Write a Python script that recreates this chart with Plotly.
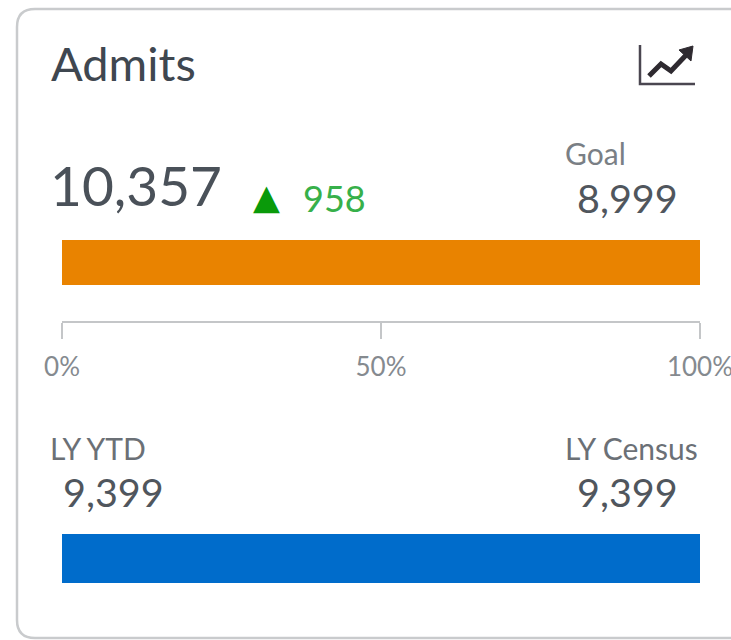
import plotly.graph_objects as go

TITLE = "Admits"
actual = 10357
variance = 958
goal = 8999
ly_ytd = 9399
ly_census = 9399
actual_pct = [100]
ly_pct = [100]
tick_vals = [0, 50, 100]
tick_text = ["0%", "50%", "100%"]

W, H = 731, 640
FONT = "Lato"
def px(x): return x / W
def py(y): return 1 - y / H
def pth(pts, close=False):
    s = "M" + " L".join(f"{px(x):.5f},{py(y):.5f}" for x, y in pts)
    return s + (" Z" if close else "")

fig = go.Figure()
fig.add_bar(x=actual_pct, y=["Actual"], orientation="h", marker=dict(color="#E98300", line_width=0),
            xaxis="x", yaxis="y", showlegend=False, hoverinfo="skip")
fig.add_bar(x=ly_pct, y=["LY"], orientation="h", marker=dict(color="#006CCB", line_width=0),
            xaxis="x", yaxis="y2", showlegend=False, hoverinfo="skip")

def txt(x, y, s, size, color, anchor="left", family=FONT):
    return dict(x=px(x), y=py(y), xref="paper", yref="paper", text=s, showarrow=False,
                xanchor=anchor, yanchor="middle", align=anchor, borderpad=0,
                font=dict(family=family, size=size, color=color))

annots = [
    txt(50, 63, TITLE, 47, "#3F4750"),
    txt(49, 185, f"{actual:,}", 55, "#4A5159"),
    txt(252, 197, "▲", 35, "#0A9A0A", family="DejaVu Sans"),
    txt(302, 198, f"{variance}", 36, "#37B04A"),
    txt(564, 153, "Goal", 30, "#7A7F85"),
    txt(576, 197, f"{goal:,}", 39.5, "#50565D"),
    txt(49, 448, "LY YTD", 30, "#6B7076"),
    txt(564, 448, "LY Census", 30, "#6B7076"),
    txt(62, 491, f"{ly_ytd:,}", 39.5, "#50565D"),
    txt(576, 491, f"{ly_census:,}", 39.5, "#50565D"),
]

r = 18
L, T, B = 17, 9, 638
card = (f"M{px(W+5):.5f},{py(T):.5f} L{px(L+r):.5f},{py(T):.5f} "
        f"Q{px(L):.5f},{py(T):.5f} {px(L):.5f},{py(T+r):.5f} "
        f"L{px(L):.5f},{py(B-r):.5f} Q{px(L):.5f},{py(B):.5f} {px(L+r):.5f},{py(B):.5f} "
        f"L{px(W+5):.5f},{py(B):.5f}")
shapes = [
    dict(type="path", path=card, xref="paper", yref="paper", line=dict(color="#C9CBCD", width=2.5), layer="below"),
    dict(type="path", path=pth([(640, 45), (640, 84), (695, 84)]), xref="paper", yref="paper",
         line=dict(color="#4A4650", width=2.5)),
    dict(type="path", path=pth([(649, 76), (661, 64), (671, 71), (689, 52)]), xref="paper", yref="paper",
         line=dict(color="#2E2A30", width=5)),
    dict(type="path", path=pth([(679, 50), (693, 46), (691, 61)], True), xref="paper", yref="paper",
         fillcolor="#2E2A30", line=dict(color="#2E2A30", width=1)),
]

fig.update_layout(
    template="none",
    width=W, height=H, margin=dict(l=0, r=0, t=0, b=0, autoexpand=False),
    paper_bgcolor="white", plot_bgcolor="white", bargap=0,
    font=dict(family=FONT), annotations=annots, shapes=shapes,
    xaxis=dict(domain=[px(62), px(700)], range=[0, 100], anchor="free", position=py(322), side="bottom",
               automargin=False, tickmode="array", tickvals=tick_vals, ticktext=tick_text,
               ticks="outside", ticklen=16, tickcolor="#C4C6C8", tickwidth=2, ticklabelstandoff=6,
               ticklabeloverflow="allow",
               showline=True, linecolor="#C4C6C8", linewidth=2, showgrid=False, zeroline=False,
               tickfont=dict(family=FONT, size=26, color="#858A8F")),
    yaxis=dict(domain=[py(285), py(240)], visible=False, fixedrange=True, automargin=False),
    yaxis2=dict(domain=[py(583), py(534)], visible=False, fixedrange=True, automargin=False),
)
fig.write_html("out.html", config=dict(displayModeBar=False),
               post_script="document.body.style.margin='0';document.body.style.overflow='hidden';")
